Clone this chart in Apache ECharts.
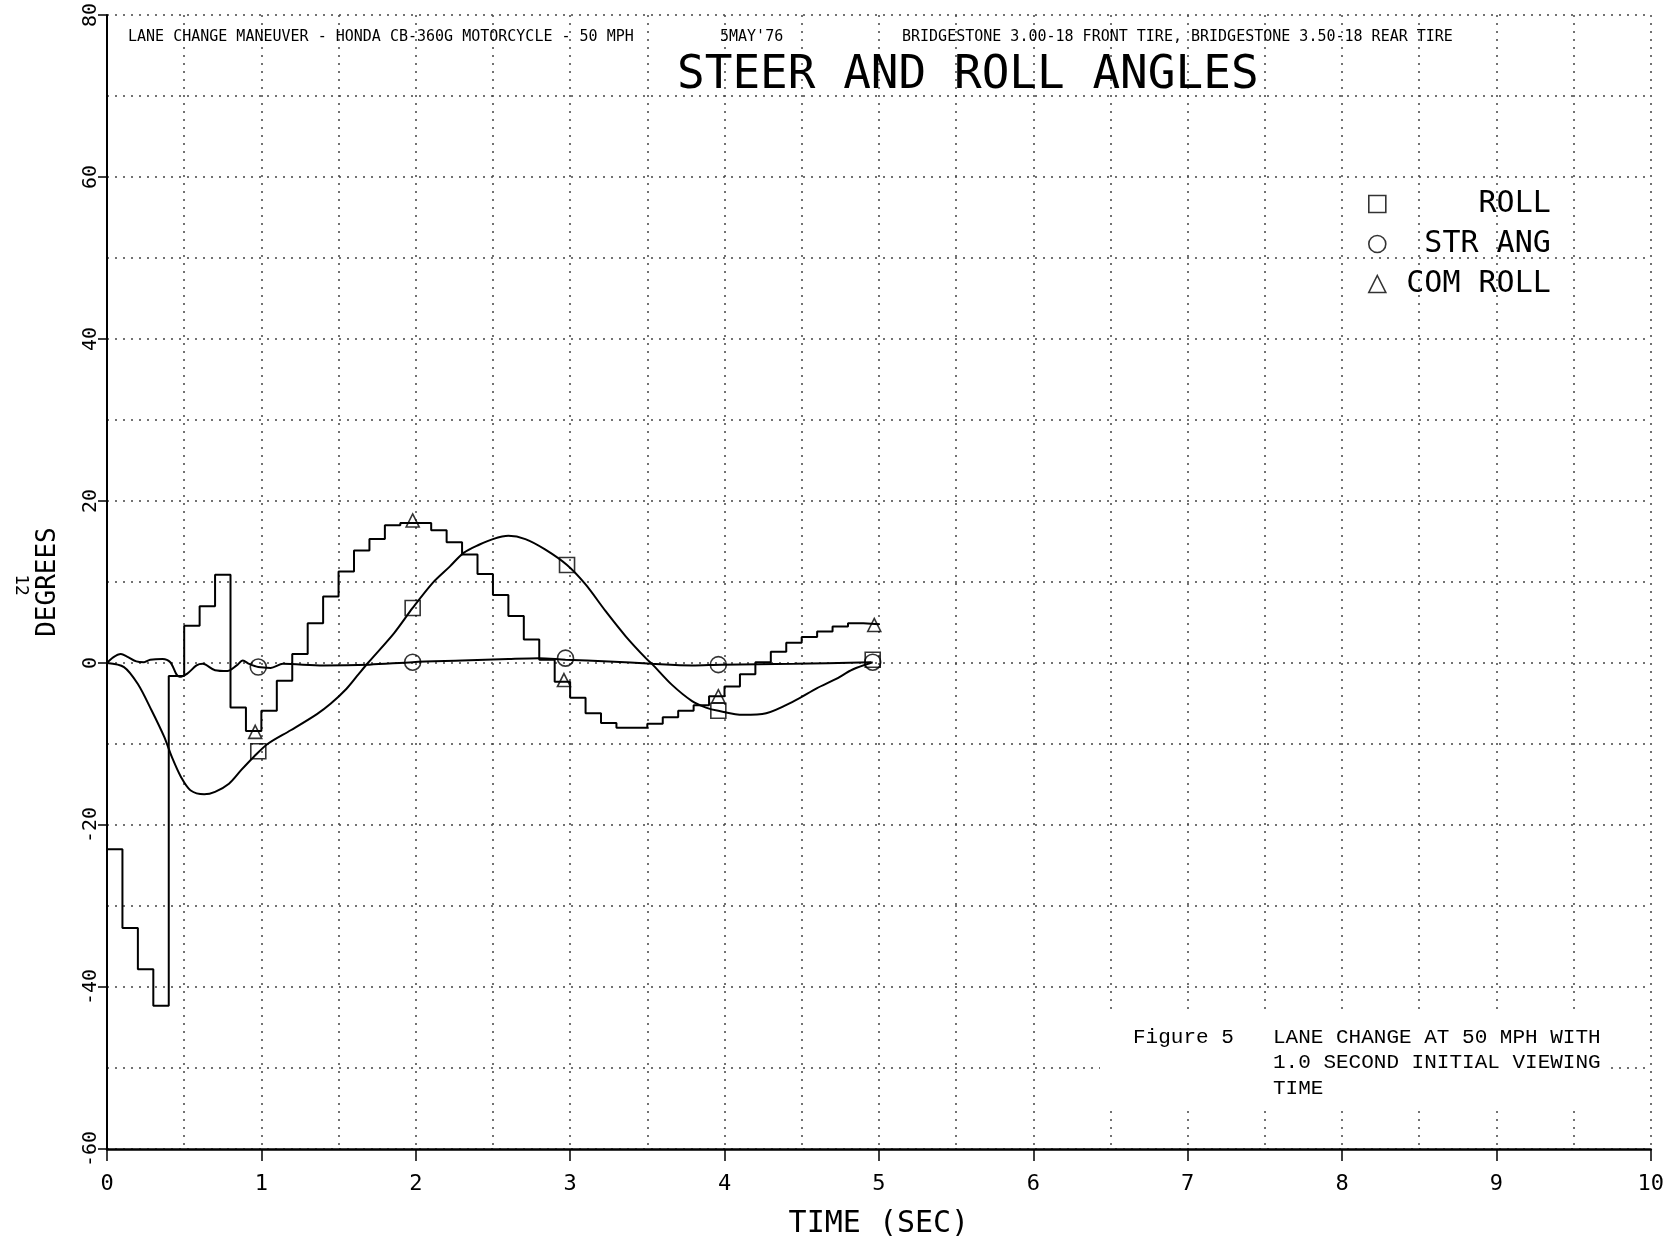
<!DOCTYPE html>
<html>
<head>
<meta charset="utf-8">
<title>Steer and Roll Angles</title>
<script src="https://cdn.jsdelivr.net/npm/echarts/dist/echarts.min.js"></script>
<style>
  html, body { margin: 0; padding: 0; background: #fff; }
  #chart { width: 1667px; height: 1247px; }
</style>
</head>
<body>
<div id="chart"></div>
<script>
// Steer and roll angles - lane change, 50 mph

// [time (sec), degrees]
var rollData = [
  [0, 0], [0.11, -0.5], [0.2, -2.6], [0.29, -5.9], [0.37, -9.1], [0.42, -11.6],
  [0.48, -14.1], [0.54, -15.7], [0.63, -16.2], [0.7, -15.9], [0.79, -14.9],
  [0.87, -13.2], [0.95, -11.6], [1.04, -10.0], [1.19, -8.3], [1.36, -6.3],
  [1.45, -5.0], [1.55, -3.2], [1.62, -1.6], [1.69, 0], [1.86, 3.7], [1.98, 6.8],
  [2.11, 9.9], [2.22, 11.9], [2.31, 13.6], [2.41, 14.6], [2.5, 15.3], [2.6, 15.7],
  [2.71, 15.3], [2.84, 14.0], [2.98, 12.1], [3.1, 9.7], [3.23, 6.4], [3.36, 3.3],
  [3.49, 0.6], [3.53, -0.1], [3.66, -2.7], [3.79, -4.7], [3.88, -5.5], [3.96, -5.9],
  [4.12, -6.4], [4.27, -6.2], [4.45, -4.7], [4.6, -3.1], [4.72, -2.0], [4.83, -0.8],
  [4.96, 0.1]
];

var steerData = [
  [0, 0], [0.04, 0.7], [0.09, 1.1], [0.13, 0.8], [0.19, 0.2], [0.24, 0.1],
  [0.28, 0.4], [0.36, 0.5], [0.41, 0.1], [0.45, -1.4], [0.47, -1.7], [0.52, -1.3],
  [0.58, -0.3], [0.62, -0.1], [0.7, -0.9], [0.78, -1.0], [0.84, -0.3], [0.88, 0.3],
  [0.92, -0.1], [0.98, -0.5], [1.06, -0.6], [1.14, -0.1], [1.4, -0.3], [1.7, -0.2],
  [1.98, 0.1], [2.3, 0.3], [2.6, 0.5], [2.8, 0.6], [2.97, 0.4], [3.25, 0.2],
  [3.53, -0.1], [3.79, -0.3], [3.98, -0.2], [4.45, -0.1], [4.95, 0.1]
];

// commanded roll is held for each 0.1 sec step
var comRollData = [
  [0.0, -23.0], [0.1, -32.7], [0.2, -37.8], [0.3, -42.3], [0.4, -1.6], [0.5, 4.6],
  [0.6, 7.0], [0.7, 10.9], [0.8, -5.5], [0.9, -8.4], [1.0, -5.9], [1.1, -2.2],
  [1.2, 1.1], [1.3, 4.9], [1.4, 8.2], [1.5, 11.3], [1.6, 13.9], [1.7, 15.3],
  [1.8, 17.0], [1.9, 17.3], [2.0, 17.3], [2.1, 16.4], [2.2, 14.9], [2.3, 13.4],
  [2.4, 11.0], [2.5, 8.4], [2.6, 5.8], [2.7, 2.9], [2.8, 0.4], [2.9, -2.3],
  [3.0, -4.3], [3.1, -6.2], [3.2, -7.4], [3.3, -8.0], [3.4, -8.0], [3.5, -7.5],
  [3.6, -6.7], [3.7, -5.9], [3.8, -5.2], [3.9, -4.1], [4.0, -2.9], [4.1, -1.4],
  [4.2, 0.1], [4.3, 1.4], [4.4, 2.5], [4.5, 3.2], [4.6, 3.9], [4.7, 4.5],
  [4.8, 4.9], [4.9, 4.8], [5.0, 4.7]
];

// plot symbols, one per second
var rollMarks = [[0.98, -10.9], [1.98, 6.8], [2.98, 12.1], [3.96, -5.9], [4.96, 0.4]];
var steerMarks = [[0.98, -0.5], [1.98, 0.1], [2.97, 0.6], [3.96, -0.2], [4.96, 0.1]];
var comRollMarks = [[0.96, -8.5], [1.98, 17.6], [2.96, -2.1], [3.96, -4.1], [4.97, 4.7]];

var headerLeft = 'LANE CHANGE MANEUVER - HONDA CB-360G MOTORCYCLE - 50 MPH';
var headerDate = "5MAY'76";
var headerTires = 'BRIDGESTONE 3.00-18 FRONT TIRE, BRIDGESTONE 3.50-18 REAR TIRE';
var noteLines = ['LANE CHANGE AT 50 MPH WITH', '1.0 SECOND INITIAL VIEWING', 'TIME'];

var plotFont = 'DejaVu Sans Mono';
var typeFont = 'Liberation Mono';
var dotted = { type: [2, 6], color: '#444', width: 1.5 };
var hollow = { color: 'rgba(0,0,0,0)', borderColor: '#000', borderWidth: 1.6 };

function label(x, y, text, font, size) {
  return {
    type: 'text', x: x, y: y, z: 20,
    style: { text: text, fontFamily: font, fontSize: size, fill: '#000', align: 'left', verticalAlign: 'middle', textAlign: 'left', textVerticalAlign: 'middle' }
  };
}

var chart = echarts.init(document.getElementById('chart'));

var option = {
  animation: false,
  backgroundColor: '#fff',
  title: {
    text: 'STEER AND ROLL ANGLES',
    left: 672,
    top: 48,
    textStyle: { fontFamily: plotFont, fontSize: 46, fontWeight: 'normal', color: '#000' }
  },
  grid: { left: 107, right: 12, top: 8, bottom: 98 },
  legend: {
    orient: 'vertical',
    left: 1363,
    top: 184,
    itemGap: 10,
    itemWidth: 17,
    itemHeight: 17,
    selectedMode: false,
    data: [
      { name: 'ROLL', icon: 'rect', itemStyle: hollow },
      { name: 'STR ANG', icon: 'circle', itemStyle: hollow },
      { name: 'COM ROLL', icon: 'triangle', itemStyle: hollow }
    ],
    formatter: function (n) { return '{r|' + n + '}'; },
    textStyle: {
      fontFamily: plotFont, fontSize: 30, color: '#000',
      rich: { r: { width: 160, height: 30, lineHeight: 30, align: 'right', fontFamily: plotFont, fontSize: 30, color: '#000' } }
    }
  },
  xAxis: {
    type: 'value',
    min: 0,
    max: 10,
    interval: 1,
    name: 'TIME (SEC)',
    nameLocation: 'middle',
    nameGap: 60,
    nameTextStyle: { fontFamily: plotFont, fontSize: 30, color: '#000' },
    axisLine: { show: true, onZero: false, lineStyle: { color: '#000', width: 2.5 } },
    axisTick: { show: true, length: 12, lineStyle: { color: '#000', width: 1.5 } },
    axisLabel: { fontFamily: plotFont, fontSize: 22, color: '#000', margin: 24 },
    splitLine: { show: true, lineStyle: dotted },
    minorTick: { show: false, splitNumber: 2 },
    minorSplitLine: { show: true, lineStyle: dotted }
  },
  yAxis: {
    type: 'value',
    min: -60,
    max: 80,
    interval: 20,
    name: 'DEGREES',
    nameLocation: 'middle',
    nameGap: 46,
    nameTextStyle: { fontFamily: plotFont, fontSize: 26, color: '#000' },
    axisLine: { show: true, onZero: false, lineStyle: { color: '#000', width: 2 } },
    axisTick: { show: true, length: 9, lineStyle: { color: '#000', width: 1.5 } },
    axisLabel: { rotate: 90, fontFamily: plotFont, fontSize: 20, color: '#000', margin: 6 },
    splitLine: { show: true, lineStyle: dotted },
    minorTick: { show: false, splitNumber: 2 },
    minorSplitLine: { show: true, lineStyle: dotted }
  },
  series: [
    {
      name: 'roll curve', type: 'line', data: rollData, smooth: 0.3,
      showSymbol: false, silent: true, lineStyle: { color: '#000', width: 2 }
    },
    {
      name: 'steer curve', type: 'line', data: steerData, smooth: 0.3,
      showSymbol: false, silent: true, lineStyle: { color: '#000', width: 2 }
    },
    {
      name: 'com roll curve', type: 'line', data: comRollData, step: 'end',
      showSymbol: false, silent: true, lineStyle: { color: '#000', width: 2 }
    },
    { name: 'ROLL', type: 'scatter', data: rollMarks, symbol: 'rect', symbolSize: 15, itemStyle: hollow, z: 5 },
    { name: 'STR ANG', type: 'scatter', data: steerMarks, symbol: 'circle', symbolSize: 16, itemStyle: hollow, z: 5 },
    { name: 'COM ROLL', type: 'scatter', data: comRollMarks, symbol: 'triangle', symbolSize: 13, itemStyle: hollow, z: 5 }
  ],
  graphic: [
    label(128, 37, headerLeft, plotFont, 15),
    label(720, 37, headerDate, plotFont, 15),
    label(902, 37, headerTires, plotFont, 15),
    { type: 'text', x: 21, y: 585, rotation: -Math.PI / 2, z: 20, style: { text: '12', fontFamily: plotFont, fontSize: 18, fill: '#000', align: 'center', verticalAlign: 'middle', textAlign: 'center', textVerticalAlign: 'middle' } },
    // pasted-on caption hides the grid behind it
    { type: 'rect', z: 15, shape: { x: 1100, y: 1013, width: 505, height: 92 }, style: { fill: '#fff' } },
    label(1133, 1037, 'Figure 5', typeFont, 21),
    label(1273, 1037, noteLines[0], typeFont, 21),
    label(1273, 1062, noteLines[1], typeFont, 21),
    label(1273, 1088, noteLines[2], typeFont, 21)
  ]
};

chart.setOption(option);
</script>
</body>
</html>
